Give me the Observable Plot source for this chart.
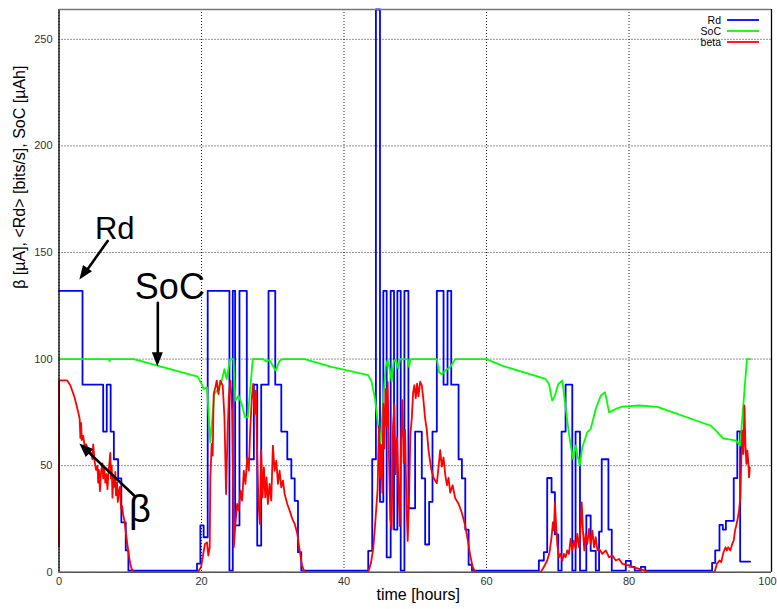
<!DOCTYPE html>
<html>
<head>
<meta charset="utf-8">
<script src="https://cdn.jsdelivr.net/npm/d3@7"></script>
<script src="https://cdn.jsdelivr.net/npm/@observablehq/plot@0.6"></script>
<style>
  html, body { margin: 0; padding: 0; background: #fff; }
  #chart { width: 777px; height: 609px; }
</style>
</head>
<body>
<div id="chart"></div>
<script>
// ---------- data ----------
const xTicks = [0, 20, 40, 60, 80, 100];
const yTicks = [0, 50, 100, 150, 200, 250];
const xLabel = "time [hours]";
const yLabel = "β [µA], <Rd> [bits/s], SoC [µAh]";

const seriesNames = ["Rd", "SoC", "beta"];
const seriesColors = ["#0000ff", "#00ff00", "#ff0000"];

// Rd: step function (value holds from each time to the next)
const rdTime = [0, 3.3, 6.2, 6.7, 7.25, 7.7, 8.3, 8.75, 9.37, 9.74,
  19.37, 19.84, 20.3, 20.87, 23.92, 24.39, 24.72, 25.33, 26.36, 27.35, 27.82, 28.38, 29.41, 30.35, 31.2, 32.04, 32.61, 33.08, 33.54, 34.0,
  43.4, 43.96, 44.48, 45.05, 45.52, 45.99, 46.55, 47.02, 47.49, 47.96, 48.48, 49.04, 49.98, 50.92, 51.39, 51.95, 52.42, 53.03, 53.97, 54.53, 55.05, 56.08, 56.55, 57.02, 57.49, 57.96,
  67.35, 68.05, 68.52, 69.13, 69.6, 70.07, 70.54, 71.1, 72.04, 72.5, 73.12, 74.01, 74.62, 75.33, 75.8, 76.17, 77.11, 77.58, 79.55, 80.26, 80.8, 81.67, 82.28,
  91.66, 92.1, 92.7, 93.17, 93.6, 94.7, 95.2, 95.6, 97.0];
const rdValue = [132, 88, 66, 88, 66, 53, 44, 23.4, 10.2, 0.7,
  4, 22, 16.4, 132, 0.7, 132, 22, 132, 53, 88, 12.5, 88, 132, 88, 66, 53, 44, 33.5, 9.4, 0.7,
  10, 53, 264, 33, 132, 7, 132, 20, 132, 0.7, 132, 30, 66, 44, 13, 33, 66, 132, 88, 132, 88, 53, 44, 20, 3.5, 0.7,
  5.5, 9.4, 44.2, 37.5, 17.7, 0.7, 66, 88, 0.7, 66, 0.7, 26.6, 10, 0.7, 19, 53, 20, 0.7, 5.3, 2.5, 0.7, 2.5, 0.7,
  4.4, 10.2, 22.2, 20, 24.1, 44.1, 66.1, 5.0, 5.0];

// SoC
const socTime = [0, 7.0, 7.1, 7.2, 10.5, 19.46, 20.02, 20.3, 20.77, 21.24, 21.8, 22.37, 22.84, 23.22, 23.54, 24.01, 24.48, 24.76, 25.19, 25.56, 26.13, 26.5, 27.2, 28.61, 29.08, 29.55, 30.4, 30.96, 31.43, 34.48,
  38.24, 43.4, 43.87, 44.34, 44.81, 45.14, 45.52, 45.85, 46.13, 46.46, 46.69, 46.97, 47.25, 47.63, 47.86, 48.94, 49.13, 49.32, 53.03, 53.36, 53.73, 54.2, 54.91, 55.61, 60.0,
  62.18, 68.29, 68.76, 69.22, 69.6, 70.07, 70.64, 71.1, 71.57, 72.14, 72.5, 73.08, 73.45, 74.15, 74.62, 75.33, 76.03, 76.64, 77.21, 78.14, 79.08, 81.43, 84.0,
  91.5, 92.2, 93.17, 93.87, 95.05, 95.6, 96.55, 97.0];
const socValue = [100, 100, 99, 100, 100, 91.75, 88.3, 86.0, 86.7, 60.9, 83.6, 86.0, 89.9, 95.3, 90.6, 100, 100, 80.5, 82.85, 79.7, 72.7, 72.7, 100, 100, 98.9, 99.5, 94.6, 99.2, 100, 100,
  96.3, 92.5, 89.4, 81.6, 68.6, 60.8, 81.6, 96.3, 99.5, 94.6, 89.4, 98.9, 99.8, 95.5, 100, 100, 96.3, 100, 100, 93.7, 92.9, 94.6, 96.3, 100, 100,
  96.9, 90.7, 88.3, 80.5, 82.8, 88.3, 89.9, 77.4, 64.9, 53.2, 59.4, 50.0, 58.6, 65.7, 67.2, 76.6, 82.8, 84.4, 75.0, 76.6, 77.7, 78.2, 77.6,
  68.7, 66.4, 62.9, 62.4, 61.7, 59.4, 100, 100];

// beta
const betaTime = [0, 0.02, 1.15, 1.6, 2.17, 2.64, 2.9, 3.0, 3.1, 3.2, 3.4, 3.6, 3.8, 4.0, 4.2, 4.5, 4.7, 4.8, 5.0, 5.2, 5.4, 5.5, 5.6, 5.75, 5.9, 6.1, 6.2, 6.35, 6.5, 6.65, 6.8, 6.95, 7.1, 7.2, 7.3, 7.4, 7.5, 7.65, 7.8, 7.9, 8.0, 8.15, 8.25, 8.4, 8.55, 8.7, 8.85, 9.0, 9.2, 9.4, 9.6, 9.8, 10.0, 10.2, 10.5, 11.0,
  19.46, 19.93, 20.16, 20.49, 20.77, 20.96, 21.15, 21.24, 21.43, 21.57, 21.71, 21.94, 22.14, 22.37, 22.65, 22.98, 23.22, 23.45, 23.64, 23.83, 24.06, 24.3, 24.53, 24.76, 25.0, 25.23, 25.47, 25.7, 25.94, 26.17, 26.41, 26.64, 26.83, 27.07, 27.25, 27.44, 27.63, 27.82, 28.0, 28.2, 28.38, 28.57, 28.76, 28.95, 29.13, 29.32, 29.55, 29.79, 30.02, 30.26, 30.5, 30.73, 30.96, 31.2, 31.43, 31.67, 32.04, 32.37, 32.75, 33.08, 33.45, 33.78, 34.11, 34.48,
  43.4, 43.78, 44.11, 44.43, 44.72, 44.9, 45.05, 45.19, 45.38, 45.52, 45.66, 45.85, 45.99, 46.13, 46.32, 46.5, 46.69, 46.88, 47.07, 47.25, 47.44, 47.63, 47.82, 48.0, 48.19, 48.38, 48.57, 48.76, 48.94, 49.13, 49.32, 49.51, 49.7, 49.88, 50.07, 50.26, 50.45, 50.69, 50.92, 51.15, 51.39, 51.62, 51.86, 52.23, 52.56, 53.03, 53.27, 53.5, 53.73, 53.97, 54.2, 54.44, 54.67, 54.91, 55.24, 55.61, 56.08, 56.55, 57.02, 57.39, 57.72, 58.05, 58.43,
  67.6, 68.05, 68.52, 68.85, 69.13, 69.32, 69.46, 69.6, 69.79, 69.93, 70.17, 70.4, 70.64, 70.87, 71.1, 71.34, 71.57, 71.81, 72.04, 72.28, 72.51, 72.75, 72.98, 73.22, 73.36, 73.54, 73.73, 73.92, 74.15, 74.39, 74.62, 74.86, 75.1, 75.33, 75.57, 75.8, 76.27, 76.74, 77.21, 77.68, 78.14, 78.61, 79.08, 80.02, 80.96, 81.9, 82.84,
  92.0, 92.33, 92.7, 92.94, 93.27, 93.55, 93.74, 93.93, 94.22, 94.5, 94.69, 94.88, 95.16, 95.44, 95.63, 95.77, 95.91, 96.05, 96.2, 96.34, 96.48, 96.62, 96.76, 96.85, 96.95];
const betaValue = [12, 90, 90, 87.6, 82.2, 75.9, 72, 63, 70, 62, 64, 59, 60, 58, 57, 56, 53, 60, 52, 48, 50, 42, 48, 38, 47, 51, 44, 49, 42, 46, 39, 47, 52, 56, 44, 50, 35, 45, 40, 47, 36, 42, 33, 38, 40, 30, 31, 27, 24, 18, 13, 8, 4, 1.5, 0.3, 0,
  0, 2.3, 7.0, 13.3, 14, 7.8, 11.7, 44.5, 60.2, 54.7, 83.6, 86.7, 89.9, 83.6, 89.9, 87.5, 72.7, 36.7, 63.3, 82, 89.9, 75.8, 11.7, 22.7, 32, 28.9, 38.3, 33.6, 47.6, 41.4, 53.9, 47.6, 66.4, 82, 88.3, 74.2, 85.2, 55.5, 32, 22.7, 57, 35.1, 49.2, 35.1, 44.5, 32, 41.4, 33.6, 59.4, 47.6, 52.3, 41.4, 47.6, 39.8, 43, 36.7, 32, 28.9, 25, 22.7, 18, 10.2, 3.1, 0,
  0, 4.3, 11.3, 25.2, 39, 68.6, 44.3, 59.9, 37.3, 79, 58.2, 85.9, 68.6, 89.4, 53, 25.2, 20, 68.6, 79, 46, 63.3, 42.5, 21.7, 59.9, 80.7, 51.2, 66.8, 33.9, 14.7, 35.6, 65.1, 72, 84.2, 87.7, 81.6, 88.5, 82.5, 89.4, 87.7, 80.7, 72, 66.8, 57.3, 48.6, 44.3, 41.7, 49.5, 57.3, 49.5, 53.8, 46, 40.8, 44.3, 37.3, 40.8, 34.7, 32.1, 27.8, 21.7, 14.7, 7.8, 2.6, 0,
  0, 2.4, 5.5, 9.4, 16.4, 23.4, 19.5, 32.8, 21.1, 13.3, 7.0, 8.6, 5.5, 8.6, 7.0, 10.2, 8.6, 15.6, 10.2, 14.8, 10.9, 18, 11.7, 21.1, 32.8, 19.5, 10.2, 18, 13.3, 20.3, 13.3, 19.5, 11.7, 16.4, 10.2, 10.9, 8.6, 10.2, 7.0, 7.8, 5.5, 6.2, 3.9, 3.1, 2.0, 1.1, 0,
  0, 3.9, 5.5, 4.7, 9.4, 11.7, 10.2, 11.7, 10.2, 13.3, 14.8, 19.5, 23.4, 28.9, 35.1, 53.9, 66.4, 55.5, 78.2, 59.4, 50.8, 57, 50.8, 44.5, 49.2];

// annotations (data coordinates)
const annText = ["Rd", "SoC", "β"];
const annX = [7.82, 15.56, 11.34];
const annY = [160.9, 133.5, 29.4];
const annSize = [31, 36, 38];
const arrowX1 = [6.83, 13.87, 10.54];
const arrowY1 = [155.4, 126.4, 36.0];
const arrowX2 = [2.93, 13.87, 2.93];
const arrowY2 = [137.1, 96.4, 60.2];

// ---------- build ----------
const rd = rdTime.map((t, i) => ({t, v: rdValue[i]}));
const soc = socTime.map((t, i) => ({t, v: socValue[i]}));
const beta = betaTime.map((t, i) => ({t, v: betaValue[i]}));
const ann = annText.map((s, i) => ({s, x: annX[i], y: annY[i], size: annSize[i]}));
const arrows = arrowX1.map((x1, i) => ({x1, y1: arrowY1[i], x2: arrowX2[i], y2: arrowY2[i]}));

const grid = {stroke: "#000", strokeOpacity: 0.85, strokeDasharray: "1,2", strokeWidth: 1};
const innerXTicks = xTicks.slice(0, -1);
const lastXTick = xTicks.slice(-1);

const plot = Plot.plot({
  width: 777,
  height: 609,
  marginLeft: 58.5,
  marginRight: 6,
  marginTop: 9,
  marginBottom: 37.3,
  style: {fontFamily: "'Liberation Sans', Arial, Helvetica, sans-serif", fontSize: "11px", color: "#333", background: "#fff", overflow: "visible"},
  x: {domain: [0, 100]},
  y: {domain: [0, 264]},
  marks: [
    Plot.gridX(xTicks, grid),
    Plot.gridY(yTicks, grid),
    Plot.axisX(innerXTicks, {tickSize: 0, tickPadding: 5, label: null, tickFormat: d => d}),
    Plot.axisX(lastXTick, {tickSize: 0, tickPadding: 5, label: null, tickFormat: d => d, dx: -4}),
    Plot.axisY(yTicks, {tickSize: 0, tickPadding: 6.5, label: null, tickFormat: d => d}),
    Plot.lineY(rd, {x: "t", y: "v", curve: "step-after", stroke: seriesColors[0], strokeWidth: 1.8}),
    Plot.lineY(soc, {x: "t", y: "v", stroke: seriesColors[1], strokeWidth: 1.8}),
    Plot.lineY(beta, {x: "t", y: "v", stroke: seriesColors[2], strokeWidth: 1.8}),
    Plot.ruleX([0], {stroke: "#000", strokeWidth: 1.3}),
    Plot.ruleX([100], {stroke: "#000", strokeWidth: 1.3}),
    Plot.ruleY([264], {stroke: "#777", strokeWidth: 1.3}),
    Plot.ruleY([0], {stroke: "#555", strokeWidth: 1.5}),
    Plot.arrow(arrows, {x1: "x1", y1: "y1", x2: "x2", y2: "y2", headLength: 0, insetEnd: 9, stroke: "#000", strokeWidth: 2.6}),
    Plot.text(ann, {x: "x", y: "y", text: "s", fontSize: d => d.size, fill: "#000", fontFamily: "'Liberation Sans', Arial, sans-serif"}),
    Plot.text([xLabel], {frameAnchor: "bottom", dy: 27.5, dx: 3, fontSize: 16, fill: "#000"}),
    Plot.text([yLabel], {frameAnchor: "left", rotate: -90, dx: -39.5, dy: -2, fontSize: 16, fill: "#000"})
  ]
});

document.getElementById("chart").appendChild(plot);

// filled arrow heads, positioned through the plot's scales
const sx = plot.scale("x"), sy = plot.scale("y");
const svg = d3.select(plot);
arrows.forEach(a => {
  const px1 = sx.apply(a.x1), py1 = sy.apply(a.y1);
  const px2 = sx.apply(a.x2), py2 = sy.apply(a.y2);
  const dx = px2 - px1, dy = py2 - py1, L = Math.hypot(dx, dy);
  const ux = dx / L, uy = dy / L, len = 14, hw = 5.5;
  const bx = px2 - ux * len, by = py2 - uy * len;
  svg.append("path")
    .attr("d", `M${px2},${py2}L${bx - uy * hw},${by + ux * hw}L${bx + uy * hw},${by - ux * hw}Z`)
    .attr("fill", "#000");
});

// legend (inside the frame, top right)
const lg = svg.append("g").attr("font-family", "'Liberation Sans', Arial, sans-serif").attr("font-size", 10.5);
seriesNames.forEach((name, i) => {
  const y = 20 + i * 11;
  lg.append("text").attr("x", 721).attr("y", y).attr("dy", "0.35em").attr("text-anchor", "end").attr("fill", "#000").text(name);
  lg.append("line").attr("x1", 727).attr("x2", 759).attr("y1", y).attr("y2", y).attr("stroke", seriesColors[i]).attr("stroke-width", 1.8);
});
</script>
</body>
</html>
